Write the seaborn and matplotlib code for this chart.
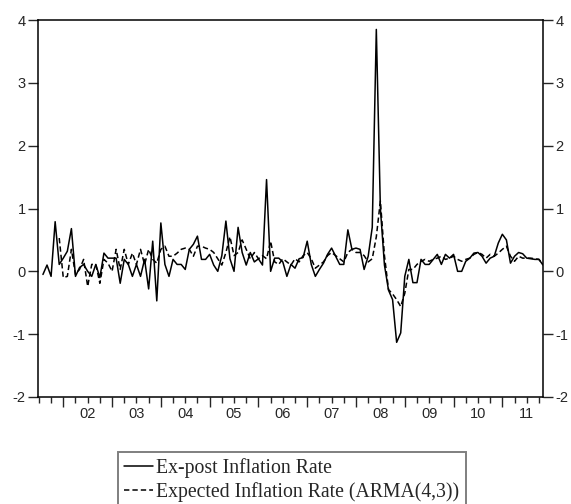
import numpy as np
import pandas as pd
import matplotlib
matplotlib.use("Agg")
import matplotlib.pyplot as plt
import seaborn as sns

# Monthly data 2001M08 .. 2011M11
start_year, start_month = 2001, 8
ex_post = [-0.05, 0.10, -0.08, 0.79, 0.11, 0.21, 0.32, 0.68, -0.08, 0.06,
           0.11, 0.00, -0.08, 0.11, -0.10, 0.29, 0.21, 0.21, 0.21, -0.19,
           0.19, 0.11, -0.08, 0.11, -0.08, 0.19, -0.28, 0.48, -0.47, 0.77,
           0.11, -0.08, 0.19, 0.11, 0.11, 0.03, 0.35, 0.43, 0.56, 0.19,
           0.19, 0.27, 0.10, 0.00, 0.25, 0.80, 0.20, 0.00, 0.70, 0.30,
           0.10, 0.30, 0.15, 0.20, 0.10, 1.46, 0.00, 0.21, 0.21, 0.15,
           -0.08, 0.11, 0.05, 0.20, 0.22, 0.48, 0.11, -0.08, 0.03, 0.13,
           0.27, 0.37, 0.24, 0.11, 0.11, 0.66, 0.35, 0.37, 0.35, 0.03,
           0.24, 0.70, 3.85, 1.00, 0.10, -0.30, -0.45, -1.13, -0.98, -0.08,
           0.19, -0.18, -0.18, 0.19, 0.11, 0.11, 0.19, 0.27, 0.11, 0.27,
           0.21, 0.27, 0.00, 0.00, 0.16, 0.21, 0.29, 0.30, 0.24, 0.13,
           0.21, 0.24, 0.45, 0.59, 0.50, 0.13, 0.24, 0.30, 0.28, 0.21,
           0.20, 0.19, 0.19, 0.10]
expected = [np.nan, np.nan, np.nan, np.nan, 0.53, -0.10, -0.08, 0.35, -0.05, 0.03,
            0.19, -0.24, 0.11, 0.11, -0.19, 0.19, 0.13, 0.00, 0.35, 0.03,
            0.35, 0.11, 0.29, 0.11, 0.35, 0.11, 0.35, 0.19, 0.13, 0.35,
            0.40, 0.24, 0.24, 0.29, 0.35, 0.37, 0.35, 0.24, 0.40, 0.40,
            0.37, 0.35, 0.30, 0.20, 0.10, 0.30, 0.55, 0.25, 0.30, 0.50,
            0.35, 0.20, 0.30, 0.20, 0.25, 0.20, 0.48, 0.15, 0.11, 0.20,
            0.15, 0.10, 0.20, 0.15, 0.25, 0.30, 0.20, 0.05, 0.10, 0.15,
            0.25, 0.30, 0.25, 0.20, 0.15, 0.30, 0.35, 0.30, 0.30, 0.25,
            0.15, 0.20, 0.55, 1.12, 0.25, -0.29, -0.36, -0.45, -0.56, -0.35,
            0.03, 0.03, 0.11, 0.16, 0.19, 0.16, 0.19, 0.21, 0.24, 0.19,
            0.21, 0.24, 0.19, 0.16, 0.19, 0.21, 0.27, 0.30, 0.27, 0.21,
            0.27, 0.24, 0.29, 0.35, 0.40, 0.24, 0.16, 0.24, 0.21, 0.21,
            0.21, 0.20, 0.19, 0.11]
year_labels = ["02", "03", "04", "05", "06", "07", "08", "09", "10", "11"]
y_ticks = [-2, -1, 0, 1, 2, 3, 4]
series_names = ["Ex-post Inflation Rate", "Expected Inflation Rate (ARMA(4,3))"]

n = len(ex_post)
t = start_year + (start_month - 1 + np.arange(n)) / 12.0
df = pd.DataFrame({"t": t, "ex_post": ex_post, "expected": expected})

sns.set_style("white")
plt.rcParams["font.family"] = ["Liberation Sans", "DejaVu Sans"]
plt.rcParams["axes.unicode_minus"] = False

fig = plt.figure(figsize=(5.71, 5.04), dpi=100)
ax = fig.add_axes([38.3 / 571, (504 - 397) / 504, (543 - 38.3) / 571, (397 - 20) / 504])

sns.lineplot(data=df, x="t", y="ex_post", ax=ax, color="black", linewidth=1.1,
             label=series_names[0])
sns.lineplot(data=df, x="t", y="expected", ax=ax, color="black", linewidth=1.1,
             linestyle=(0, (3.5, 2)), label=series_names[1])

ax.set_xlim(2001.488, t[-1])
ax.set_ylim(-2, 4)
ax.set_xlabel("")
ax.set_ylabel("")

years = np.arange(2002, 2012)
ax.set_xticks(years)
ax.set_xticklabels([""] * len(years))
quarters = np.arange(2001.5, 2012.0, 0.25)
quarters = [q for q in quarters if abs(q - round(q)) > 1e-6]
ax.set_xticks(quarters, minor=True)
ax.tick_params(axis="x", which="major", direction="out", length=7, width=1, bottom=True)
ax.tick_params(axis="x", which="minor", direction="out", length=4, width=1, bottom=True)

sec = ax.secondary_xaxis("bottom")
sec.set_xticks(years + 0.5)
sec.set_xticklabels(year_labels)
sec.tick_params(length=0, pad=7, labelsize=10.5)
sec.spines["bottom"].set_visible(False)

ax.set_yticks(y_ticks)
ax.set_yticklabels([str(v) for v in y_ticks])
ax.tick_params(axis="y", which="major", direction="out", length=7, width=1,
               left=True, right=True, labelleft=True, labelright=True,
               labelsize=10.5, pad=2)

for s in ax.spines.values():
    s.set_color("black")
    s.set_linewidth(1.1)

handles, labels = ax.get_legend_handles_labels()
ax.get_legend().remove()
leg = fig.legend(handles, labels, loc="upper left",
                 bbox_to_anchor=(118 / 571, 1 - 452 / 504),
                 bbox_transform=fig.transFigure,
                 prop={"family": ["Liberation Serif", "DejaVu Serif"], "size": 14.2},
                 frameon=True, fancybox=False, framealpha=1, edgecolor="#7f7f7f",
                 borderpad=0.3, handlelength=1.45, handletextpad=0.2,
                 labelspacing=0.22, borderaxespad=0)
leg.get_frame().set_linewidth(1.4)

fig.savefig("out.png", dpi=100)
